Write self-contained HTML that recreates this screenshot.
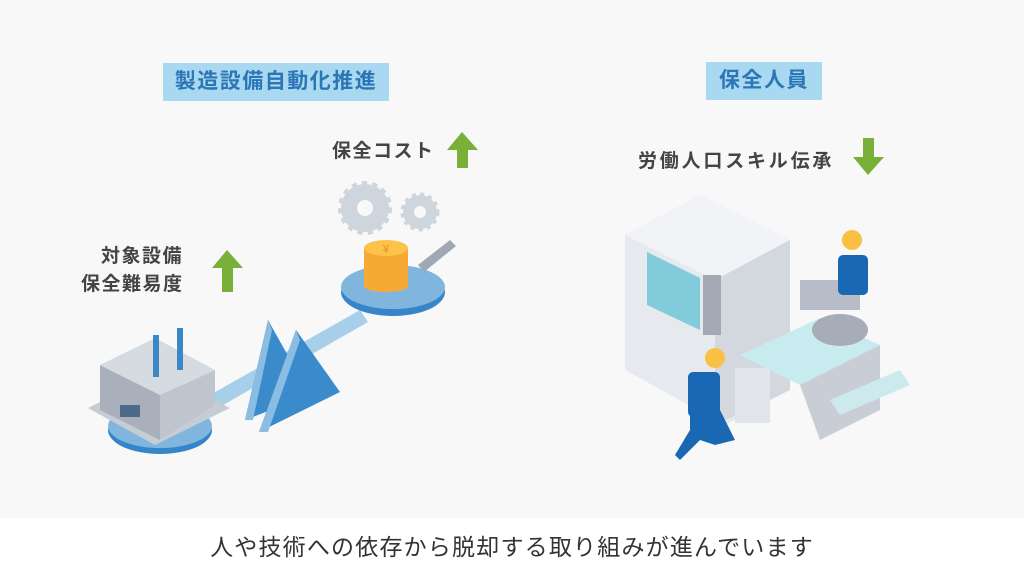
<!DOCTYPE html>
<html><head><meta charset="utf-8"><style>
html,body{margin:0;padding:0}
body{width:1024px;height:576px;overflow:hidden;background:#f8f8f9;font-family:"Liberation Sans","Noto Sans CJK JP",sans-serif;position:relative}
.lab{position:absolute;background:#a9d8f1;color:#2c76b6;font-weight:bold;font-size:21px;letter-spacing:1.5px;text-align:center;line-height:38px;height:38px}
.t{position:absolute;color:#444;font-size:19px;font-weight:bold;letter-spacing:1.5px;white-space:nowrap}
.bot{position:absolute;left:0;top:518px;width:1024px;height:58px;background:#fff;text-align:center;line-height:58px;font-size:23px;color:#333;letter-spacing:1.2px}
svg{position:absolute;left:0;top:0}
</style></head><body>
<svg width="1024" height="576" viewBox="0 0 1024 576">
<polygon points="210,395 360,310 368,322 218,408" fill="#a7cfe9"/>
<ellipse cx="393" cy="292" rx="52" ry="24" fill="#3585c8"/>
<ellipse cx="393" cy="287" rx="52" ry="22" fill="#80b6de"/>
<circle cx="365" cy="208" r="24" fill="#cfd5dd" stroke="#cfd5dd" stroke-width="6" stroke-dasharray="5 5"/><circle cx="365" cy="208" r="8" fill="#f8f8f9"/>
<circle cx="420" cy="212" r="17" fill="#cfd5dd" stroke="#cfd5dd" stroke-width="5" stroke-dasharray="4 4"/><circle cx="420" cy="212" r="6" fill="#f8f8f9"/>
<polygon points="418,265 450,240 456,246 424,272" fill="#a0a8b5"/>
<rect x="364" y="248" width="44" height="38" fill="#f6a935"/>
<ellipse cx="386" cy="286" rx="22" ry="6" fill="#f6a935"/>
<ellipse cx="386" cy="248" rx="22" ry="8" fill="#fcc34a"/>
<text x="386" y="253" font-size="12" text-anchor="middle" fill="#e59a20">¥</text>
<polygon points="268,320 245,420 310,395" fill="#3a8bcc"/>
<polygon points="268,320 245,420 253,420 272,330" fill="#8bbde2"/>
<polygon points="296,330 259,432 340,392" fill="#3a8bcc"/>
<polygon points="296,330 259,432 268,432 300,340" fill="#8bbde2"/>
<ellipse cx="160" cy="430" rx="52" ry="24" fill="#3585c8"/>
<ellipse cx="160" cy="426" rx="52" ry="22" fill="#80b6de"/>
<polygon points="88,408 155,445 230,408 160,372" fill="#c6ccd4"/>
<polygon points="100,365 160,395 160,440 100,410" fill="#a9b0bb"/>
<polygon points="160,395 215,370 215,405 160,440" fill="#bfc5ce"/>
<polygon points="100,365 155,338 215,370 160,395" fill="#d6dbe2"/>
<rect x="120" y="405" width="20" height="12" fill="#4d6a8c"/>
<rect x="153" y="335" width="6" height="42" fill="#3b87c6"/>
<rect x="177" y="328" width="6" height="42" fill="#3b87c6"/>
<polygon points="447,150 462,132 478,150 468,150 468,168 457,168 457,150" fill="#79b037"/>
<polygon points="212,268 227,250 243,268 233,268 233,292 222,292 222,268" fill="#79b037"/>
<polygon points="853,157 868,175 884,157 874,157 874,138 863,138 863,157" fill="#79b037"/>
<polygon points="625,235 700,195 790,240 790,390 725,425 625,370" fill="#e6e9ee"/>
<polygon points="625,235 700,195 790,240 715,280" fill="#f1f3f6"/>
<polygon points="715,280 790,240 790,390 715,425" fill="#d3d8df"/>
<polygon points="647,252 700,278 700,330 647,305" fill="#82cbdb"/>
<rect x="703" y="275" width="18" height="60" fill="#a3aab5"/>
<polygon points="740,355 820,318 880,345 800,385" fill="#c8ebef"/>
<polygon points="800,385 880,345 880,410 820,440" fill="#c9ced6"/>
<rect x="800" y="280" width="60" height="30" fill="#b6bdc8"/>
<ellipse cx="840" cy="330" rx="28" ry="16" fill="#a6adb8"/>
<polygon points="830,400 900,370 910,385 840,415" fill="#cce9ee"/>
<rect x="735" y="368" width="35" height="55" fill="#e1e4ea"/>
<circle cx="852" cy="240" r="10" fill="#f9c043"/>
<rect x="838" y="255" width="30" height="40" rx="5" fill="#1a67b4"/>
<circle cx="715" cy="358" r="10" fill="#f9c043"/>
<rect x="688" y="372" width="32" height="45" rx="5" fill="#1a67b4"/>
<polygon points="690,415 720,410 735,440 715,445 700,440 680,460 675,455 690,430" fill="#1a67b4"/>
</svg>
<div class="lab" style="left:163px;top:63px;width:226px">製造設備自動化推進</div>
<div class="lab" style="left:706px;top:62px;width:116px">保全人員</div>
<div class="t" style="left:332px;top:136px">保全コスト</div>
<div class="t" style="left:638px;top:146px;letter-spacing:2.8px">労働人口スキル伝承</div>
<div class="t" style="left:101px;top:243px;line-height:28px">対象設備<br><span style="margin-left:-20px">保全難易度</span></div>
<div class="bot">人や技術への依存から脱却する取り組みが進んでいます</div>
</body></html>
